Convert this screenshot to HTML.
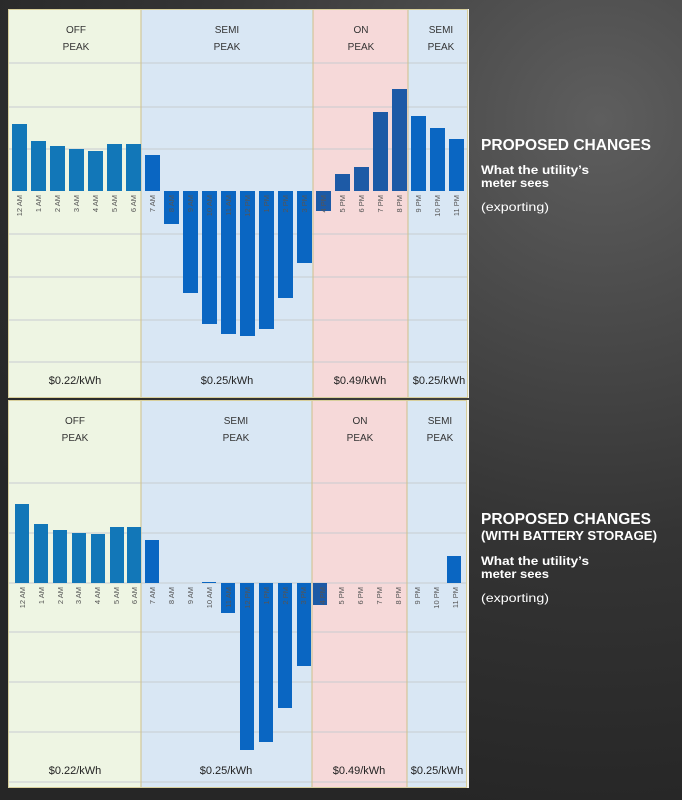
<!DOCTYPE html>
<html><head><meta charset="utf-8"><style>
body{margin:0;width:682px;height:800px;overflow:hidden;background:#2b2b2b}
svg{display:block}
</style></head><body>
<svg width="682" height="800" xmlns="http://www.w3.org/2000/svg" font-family="Liberation Sans, sans-serif">
<defs>
<radialGradient id="bg" cx="600" cy="120" r="700" gradientUnits="userSpaceOnUse">
<stop offset="0" stop-color="#5e5e5e"/><stop offset="0.6" stop-color="#343434"/><stop offset="1" stop-color="#262626"/>
</radialGradient>
</defs>
<rect width="682" height="800" fill="url(#bg)"/>

<!-- TOP PANEL -->
<g>
<rect x="8" y="9" width="461" height="389" fill="#f4f4ee"/>
<rect x="9" y="10" width="132" height="387" fill="#eef5e3"/>
<rect x="141" y="10" width="172" height="387" fill="#d9e7f4"/>
<rect x="313" y="10" width="95" height="387" fill="#f6d9d9"/>
<rect x="408" y="10" width="59" height="387" fill="#d9e7f4"/>
<g stroke="#c8ccd0" stroke-width="1">
<line x1="9" x2="467" y1="63" y2="63"/><line x1="9" x2="467" y1="107" y2="107"/><line x1="9" x2="467" y1="149" y2="149"/>
<line x1="9" x2="467" y1="234" y2="234"/><line x1="9" x2="467" y1="277" y2="277"/><line x1="9" x2="467" y1="320" y2="320"/><line x1="9" x2="467" y1="362" y2="362"/>
</g>
<g stroke="#cfc08a" stroke-width="1"><line x1="141" x2="141" y1="10" y2="397"/><line x1="313" x2="313" y1="10" y2="397"/><line x1="408" x2="408" y1="10" y2="397"/></g>
<rect x="8.5" y="9.5" width="459" height="388" fill="none" stroke="#d8cf9c"/>
<g font-size="10" fill="#333" text-anchor="middle">
<text x="76" y="33">OFF</text><text x="76" y="50">PEAK</text>
<text x="227" y="33">SEMI</text><text x="227" y="50">PEAK</text>
<text x="361" y="33">ON</text><text x="361" y="50">PEAK</text>
<text x="441" y="33">SEMI</text><text x="441" y="50">PEAK</text>
</g>
<g font-size="11" fill="#222" text-anchor="middle">
<text x="75" y="384">$0.22/kWh</text><text x="227" y="384">$0.25/kWh</text><text x="360" y="384">$0.49/kWh</text><text x="439" y="384">$0.25/kWh</text>
</g>
<g fill="#1277b8">
<rect x="12" y="124" width="15" height="67"/><rect x="31" y="141" width="15" height="50"/><rect x="50" y="146" width="15" height="45"/><rect x="69" y="149" width="15" height="42"/><rect x="88" y="151" width="15" height="40"/><rect x="107" y="144" width="15" height="47"/><rect x="126" y="144" width="15" height="47"/>
</g>
<g fill="#0a66c2">
<rect x="145" y="155" width="15" height="36"/>
<rect x="164" y="191" width="15" height="33"/><rect x="183" y="191" width="15" height="102"/><rect x="202" y="191" width="15" height="133"/><rect x="221" y="191" width="15" height="143"/><rect x="240" y="191" width="15" height="145"/><rect x="259" y="191" width="15" height="138"/><rect x="278" y="191" width="15" height="107"/><rect x="297" y="191" width="15" height="72"/>
<rect x="411" y="116" width="15" height="75"/><rect x="430" y="128" width="15" height="63"/><rect x="449" y="139" width="15" height="52"/>
</g>
<g fill="#1d5aa6">
<rect x="316" y="191" width="15" height="20"/><rect x="335" y="174" width="15" height="17"/><rect x="354" y="167" width="15" height="24"/><rect x="373" y="112" width="15" height="79"/><rect x="392" y="89" width="15" height="102"/>
</g>
<g font-size="7.5" fill="#555" text-anchor="end">
<text transform="translate(22,195) rotate(-90)">12 AM</text><text transform="translate(41,195) rotate(-90)">1 AM</text><text transform="translate(60,195) rotate(-90)">2 AM</text><text transform="translate(79,195) rotate(-90)">3 AM</text><text transform="translate(98,195) rotate(-90)">4 AM</text><text transform="translate(117,195) rotate(-90)">5 AM</text><text transform="translate(136,195) rotate(-90)">6 AM</text><text transform="translate(155,195) rotate(-90)">7 AM</text>
<text transform="translate(174,195) rotate(-90)">8 AM</text><text transform="translate(193,195) rotate(-90)">9 AM</text><text transform="translate(212,195) rotate(-90)">10 AM</text><text transform="translate(231,195) rotate(-90)">11 AM</text><text transform="translate(250,195) rotate(-90)">12 PM</text><text transform="translate(269,195) rotate(-90)">1 PM</text><text transform="translate(288,195) rotate(-90)">2 PM</text><text transform="translate(307,195) rotate(-90)">3 PM</text>
<text transform="translate(326,195) rotate(-90)">4 PM</text><text transform="translate(345,195) rotate(-90)">5 PM</text><text transform="translate(364,195) rotate(-90)">6 PM</text><text transform="translate(383,195) rotate(-90)">7 PM</text><text transform="translate(402,195) rotate(-90)">8 PM</text><text transform="translate(421,195) rotate(-90)">9 PM</text><text transform="translate(440,195) rotate(-90)">10 PM</text><text transform="translate(459,195) rotate(-90)">11 PM</text>
</g>
</g>

<!-- BOTTOM PANEL -->
<g>
<rect x="8" y="400" width="461" height="388" fill="#f4f4ee"/>
<rect x="9" y="401" width="132" height="386" fill="#eef5e3"/>
<rect x="141" y="401" width="171" height="386" fill="#d9e7f4"/>
<rect x="312" y="401" width="95" height="386" fill="#f6d9d9"/>
<rect x="407" y="401" width="59" height="386" fill="#d9e7f4"/>
<g stroke="#c8ccd0" stroke-width="1">
<line x1="9" x2="466" y1="483" y2="483"/><line x1="9" x2="466" y1="533" y2="533"/><line x1="9" x2="466" y1="583" y2="583"/>
<line x1="9" x2="466" y1="632" y2="632"/><line x1="9" x2="466" y1="682" y2="682"/><line x1="9" x2="466" y1="732" y2="732"/><line x1="9" x2="466" y1="782" y2="782"/>
</g>
<g stroke="#cfc08a" stroke-width="1"><line x1="141" x2="141" y1="401" y2="787"/><line x1="312" x2="312" y1="401" y2="787"/><line x1="407" x2="407" y1="401" y2="787"/></g>
<rect x="8.5" y="400.5" width="458" height="387" fill="none" stroke="#d8cf9c"/>
<g font-size="10" fill="#333" text-anchor="middle">
<text x="75" y="424">OFF</text><text x="75" y="441">PEAK</text>
<text x="236" y="424">SEMI</text><text x="236" y="441">PEAK</text>
<text x="360" y="424">ON</text><text x="360" y="441">PEAK</text>
<text x="440" y="424">SEMI</text><text x="440" y="441">PEAK</text>
</g>
<g font-size="11" fill="#222" text-anchor="middle">
<text x="75" y="774">$0.22/kWh</text><text x="226" y="774">$0.25/kWh</text><text x="359" y="774">$0.49/kWh</text><text x="437" y="774">$0.25/kWh</text>
</g>
<g fill="#1277b8">
<rect x="15" y="504" width="14" height="79"/><rect x="34" y="524" width="14" height="59"/><rect x="53" y="530" width="14" height="53"/><rect x="72" y="533" width="14" height="50"/><rect x="91" y="534" width="14" height="49"/><rect x="110" y="527" width="14" height="56"/><rect x="127" y="527" width="14" height="56"/>
</g>
<g fill="#0a66c2">
<rect x="145" y="540" width="14" height="43"/>
<rect x="202" y="582" width="14" height="1"/>
<rect x="221" y="583" width="14" height="30"/><rect x="240" y="583" width="14" height="167"/><rect x="259" y="583" width="14" height="159"/><rect x="278" y="583" width="14" height="125"/><rect x="297" y="583" width="14" height="83"/>
<rect x="447" y="556" width="14" height="27"/>
</g>
<g fill="#1d5aa6"><rect x="313" y="583" width="14" height="22"/></g>
<g font-size="7.5" fill="#555" text-anchor="end">
<text transform="translate(25,587) rotate(-90)">12 AM</text><text transform="translate(44,587) rotate(-90)">1 AM</text><text transform="translate(63,587) rotate(-90)">2 AM</text><text transform="translate(81,587) rotate(-90)">3 AM</text><text transform="translate(100,587) rotate(-90)">4 AM</text><text transform="translate(119,587) rotate(-90)">5 AM</text><text transform="translate(137,587) rotate(-90)">6 AM</text><text transform="translate(155,587) rotate(-90)">7 AM</text>
<text transform="translate(174,587) rotate(-90)">8 AM</text><text transform="translate(193,587) rotate(-90)">9 AM</text><text transform="translate(212,587) rotate(-90)">10 AM</text><text transform="translate(231,587) rotate(-90)">11 AM</text><text transform="translate(250,587) rotate(-90)">12 PM</text><text transform="translate(269,587) rotate(-90)">1 PM</text><text transform="translate(288,587) rotate(-90)">2 PM</text><text transform="translate(306,587) rotate(-90)">3 PM</text>
<text transform="translate(325,587) rotate(-90)">4 PM</text><text transform="translate(344,587) rotate(-90)">5 PM</text><text transform="translate(363,587) rotate(-90)">6 PM</text><text transform="translate(382,587) rotate(-90)">7 PM</text><text transform="translate(401,587) rotate(-90)">8 PM</text><text transform="translate(420,587) rotate(-90)">9 PM</text><text transform="translate(439,587) rotate(-90)">10 PM</text><text transform="translate(458,587) rotate(-90)">11 PM</text>
</g>
</g>

<!-- RIGHT TEXT -->
<g fill="#ffffff">
<text x="481" y="150" font-size="16" font-weight="bold" textLength="170" lengthAdjust="spacingAndGlyphs">PROPOSED CHANGES</text>
<text x="481" y="174" font-size="12" font-weight="bold" textLength="108" lengthAdjust="spacingAndGlyphs">What the utility’s</text>
<text x="481" y="187" font-size="12" font-weight="bold" textLength="68" lengthAdjust="spacingAndGlyphs">meter sees</text>
<text x="481" y="211" font-size="12" textLength="68" lengthAdjust="spacingAndGlyphs">(exporting)</text>

<text x="481" y="524" font-size="16" font-weight="bold" textLength="170" lengthAdjust="spacingAndGlyphs">PROPOSED CHANGES</text>
<text x="481" y="540" font-size="13" font-weight="bold" textLength="176" lengthAdjust="spacingAndGlyphs">(WITH BATTERY STORAGE)</text>
<text x="481" y="565" font-size="12" font-weight="bold" textLength="108" lengthAdjust="spacingAndGlyphs">What the utility’s</text>
<text x="481" y="578" font-size="12" font-weight="bold" textLength="68" lengthAdjust="spacingAndGlyphs">meter sees</text>
<text x="481" y="602" font-size="12" textLength="68" lengthAdjust="spacingAndGlyphs">(exporting)</text>
</g>
</svg>
</body></html>
